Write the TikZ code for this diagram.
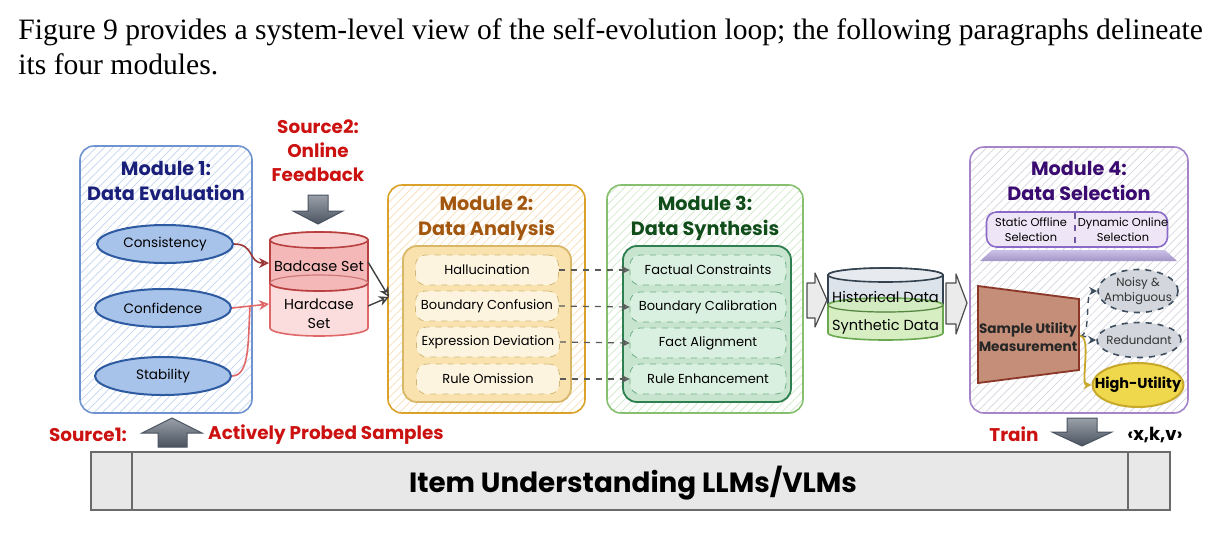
\documentclass[tikz,border=0pt]{standalone}
\usepackage{fontspec}
\setmainfont{Liberation Serif}
\newfontfamily\cf{Poppins}
\usetikzlibrary{patterns.meta,arrows.meta,shapes.geometric}
\definecolor{mOneB}{HTML}{6E93CF}\definecolor{mOneH}{HTML}{C2D3EE}\definecolor{mOneT}{HTML}{1A1F7A}
\definecolor{ellF}{HTML}{A8C3EA}\definecolor{ellB}{HTML}{2D5AA0}
\definecolor{mTwoB}{HTML}{DBA22A}\definecolor{mTwoH}{HTML}{F6DDB6}\definecolor{mTwoT}{HTML}{A2560E}
\definecolor{inTwoF}{HTML}{F9E2AE}\definecolor{inTwoB}{HTML}{D8B868}\definecolor{itTwoF}{HTML}{FDF4E0}\definecolor{itTwoB}{HTML}{D2B878}
\definecolor{mThrB}{HTML}{86C06E}\definecolor{mThrH}{HTML}{CFE7C8}\definecolor{mThrT}{HTML}{114D1A}
\definecolor{inThrF}{HTML}{C6E4CE}\definecolor{inThrB}{HTML}{2E7F4F}\definecolor{itThrF}{HTML}{D9EFDF}\definecolor{itThrB}{HTML}{6FAF86}
\definecolor{srcRed}{HTML}{CC1111}
\definecolor{badF}{HTML}{F4B8B8}\definecolor{badB}{HTML}{B84040}\definecolor{hardF}{HTML}{FBDDDD}\definecolor{hardB}{HTML}{E06868}
\definecolor{histF}{HTML}{DDE3EA}\definecolor{histB}{HTML}{34424F}\definecolor{synF}{HTML}{D3ECBD}\definecolor{synB}{HTML}{6AA84F}
\definecolor{mFouB}{HTML}{A684C8}\definecolor{mFouH}{HTML}{D4D4DC}\definecolor{mFouT}{HTML}{3A0A70}
\definecolor{selF}{HTML}{EEE6F6}\definecolor{selB}{HTML}{8A6AC8}\definecolor{platF}{HTML}{B6A6DC}
\definecolor{sumF}{HTML}{C48E78}\definecolor{sumB}{HTML}{8B3626}
\definecolor{gelF}{HTML}{D3D6DC}\definecolor{gelB}{HTML}{3E4E5E}
\definecolor{yelF}{HTML}{F0D84C}\definecolor{yelB}{HTML}{C7A82A}
\definecolor{barF}{HTML}{E8E8E8}\definecolor{barB}{HTML}{6A6A6A}
\definecolor{arrD}{HTML}{4A5360}\definecolor{arrL}{HTML}{9AA0A8}
\begin{document}
\begin{tikzpicture}[x=0.5pt,y=-0.5pt,
  modbox/.style={draw, rounded corners=7pt, line width=0.8pt, inner sep=0pt},
  hatch/.style={pattern={Lines[angle=45,distance=3pt,line width=0.35pt]}, pattern color=#1},
  mtitle/.style={font=\cf\bfseries\fontsize{9.6}{12.5}\selectfont, align=center, inner sep=0pt},
  txt/.style={font=\cf\fontsize{6.9}{9}\selectfont, align=center, inner sep=0pt},
  evalell/.style={ellipse, draw=ellB, fill=ellF, line width=1pt, minimum width=68pt, minimum height=19pt, inner sep=0pt, font=\cf\fontsize{6.8}{9}\selectfont},
  itemtwo/.style={draw=itTwoB, fill=itTwoF, dashed, rounded corners=5pt, minimum width=71.5pt, minimum height=15pt, inner sep=0pt, font=\cf\fontsize{6.5}{9}\selectfont},
  itemthr/.style={draw=itThrB, fill=itThrF, dashed, rounded corners=5pt, minimum width=78pt, minimum height=15pt, inner sep=0pt, font=\cf\fontsize{6.5}{9}\selectfont},
  dasharr/.style={draw=black!65, dashed, line width=0.6pt, -{Stealth[open,length=4pt,width=4pt]}},
  srctxt/.style={font=\cf\bfseries\fontsize{9.2}{12}\selectfont, text=srcRed, align=center, inner sep=0pt},
  blockarr/.style={top color=arrL, bottom color=arrD, draw=arrD, line width=0.5pt},
  chevarr/.style={fill=black!8, draw=black!70, line width=0.6pt, line join=round}
]
\useasboundingbox (0,0) rectangle (1219,532);
% header
\node[anchor=base west, inner sep=0pt, font=\fontsize{14.8}{17}\selectfont] (h1) at (18,39) {Figure 9 provides a system-level view of the self-evolution loop; the following paragraphs delineate};
\node[anchor=base west, inner sep=0pt, font=\fontsize{14.8}{17}\selectfont] (h2) at (18,74) {its four modules.};

% ---------- Module 1
\node[modbox, draw=mOneB, hatch=mOneH, minimum width=86pt, minimum height=133.5pt] (m1) at (166,279.5) {};
\node[mtitle, text=mOneT] (t1) at (166,181) {Module 1:\\Data Evaluation};
\node[evalell] (cons) at (165,244) {Consistency};
\node[evalell] (conf) at (163,308) {Confidence};
\node[evalell] (stab) at (163,376) {Stability};

% ---------- Source 2
\node[srctxt] (s2) at (318,151) {Source2:\\Online\\Feedback};
\path[blockarr] (308,195) -- (328,195) -- (328,211) -- (343,211) -- (318,224) -- (293,211) -- (308,211) -- cycle;

% ---------- Cylinder 1
\path[fill=hardF, draw=hardB, line width=0.8pt] (270,283) -- (270,328) arc[start angle=180,end angle=360,x radius=24.5pt,y radius=4pt] -- (368,283) arc[start angle=360,end angle=180,x radius=24.5pt,y radius=4pt] -- cycle;
\path[fill=badF, draw=badB, line width=0.8pt] (270,240) -- (270,283) arc[start angle=180,end angle=360,x radius=24.5pt,y radius=4pt] -- (368,240) arc[start angle=0,end angle=180,x radius=24.5pt,y radius=4pt] -- cycle;
\path[fill=hardF!60!badF, draw=badB, line width=0.8pt] (319,240) ellipse[x radius=24.5pt,y radius=4pt];
\draw[badB!70, line width=0.6pt] (368,283) arc[start angle=0,end angle=180,x radius=24.5pt,y radius=4pt];
\node[txt, font=\cf\fontsize{7.2}{9.5}\selectfont] (bad) at (319,266) {Badcase Set};
\node[txt, font=\cf\fontsize{7.2}{9.5}\selectfont] (hard) at (319,314) {Hardcase\\Set};
\coordinate (badin) at (269,263);
\coordinate (hardin) at (269,304);
\draw[draw=badB!85!black, line width=0.8pt, -{Stealth[open,length=5pt,width=5pt]}] (cons.east) .. controls (255,244) and (248,263) .. (badin);
\draw[draw=hardB, line width=0.8pt, -{Stealth[open,length=5pt,width=5pt]}] (conf.east) -- (hardin);
\draw[draw=hardB, line width=0.8pt] (stab.east) .. controls (250,376) and (248,340) .. (250,306);

% ---------- Module 2
\node[modbox, draw=mTwoB, hatch=mTwoH, minimum width=98.5pt, minimum height=114pt] (m2) at (486.5,299) {};
\node[mtitle, text=mTwoT] (t2) at (486.5,218) {Module 2:\\Data Analysis};
\node[draw=inTwoB, fill=inTwoF, rounded corners=7pt, line width=0.9pt, minimum width=84pt, minimum height=78pt, inner sep=0pt] (in2) at (487,324) {};
\node[itemtwo] (hal) at (487,270) {Hallucination};
\node[itemtwo] (bcf) at (487,306) {Boundary Confusion};
\node[itemtwo] (exd) at (488,342) {Expression Deviation};
\node[itemtwo] (rom) at (488,379) {Rule Omission};
\coordinate (m2in) at (389,297);
\draw[draw=black!75, line width=0.7pt, -{Stealth[open,length=5pt,width=5pt]}] (368,262) -- (m2in);
\draw[draw=black!75, line width=0.7pt, -{Stealth[open,length=5pt,width=5pt]}] (368,306) -- (m2in);

% ---------- Module 3
\node[modbox, draw=mThrB, hatch=mThrH, minimum width=98pt, minimum height=114pt] (m3) at (705,299) {};
\node[mtitle, text=mThrT] (t3) at (705,218) {Module 3:\\Data Synthesis};
\node[draw=inThrB, fill=inThrF, rounded corners=7pt, line width=0.9pt, minimum width=84pt, minimum height=78pt, inner sep=0pt] (in3) at (707,324) {};
\node[itemthr] (fac) at (708,270) {Factual Constraints};
\node[itemthr] (bca) at (708,307) {Boundary Calibration};
\node[itemthr] (fal) at (708,343) {Fact Alignment};
\node[itemthr] (ren) at (708,379) {Rule Enhancement};
\draw[dasharr] (hal.east) -- (fac.west);
\draw[dasharr] (bcf.east) -- (bca.west);
\draw[dasharr] (exd.east) -- (fal.west);
\draw[dasharr] (rom.east) -- (ren.west);

% ---------- chevron arrows
\path[chevarr] (807,283) -- (815,283) -- (815,273) -- (827,300) -- (815,327) -- (815,318) -- (807,318) -- cycle;
\path[chevarr] (946,283) -- (956,283) -- (956,274) -- (967,303) -- (956,334) -- (956,324) -- (946,324) -- cycle;

% ---------- Cylinder 2
\path[fill=histF, draw=histB, line width=0.8pt] (828,275) -- (828,305) arc[start angle=180,end angle=360,x radius=28.75pt,y radius=3.5pt] -- (943,275) arc[start angle=0,end angle=180,x radius=28.75pt,y radius=3.5pt] -- cycle;
\path[fill=histF!70!white, draw=histB, line width=0.8pt] (885.5,275) ellipse[x radius=28.75pt,y radius=3.5pt];
\path[fill=synF, fill opacity=0.9, draw=synB, line width=0.8pt] (828,305) -- (828,333) arc[start angle=180,end angle=360,x radius=28.75pt,y radius=3.5pt] -- (943,305) arc[start angle=0,end angle=180,x radius=28.75pt,y radius=3.5pt] -- cycle;
\draw[synB!80!black, line width=0.6pt] (828,305) arc[start angle=180,end angle=360,x radius=28.75pt,y radius=3.5pt];
\node[txt, font=\cf\fontsize{7.3}{9}\selectfont] (hist) at (885.5,297) {Historical Data};
\node[txt, font=\cf\fontsize{7.3}{9}\selectfont] (syn) at (885.5,327) {Synthetic Data};

% ---------- Module 4
\node[modbox, draw=mFouB, hatch=mFouH, minimum width=109pt, minimum height=133pt] (m4) at (1079,280) {};
\node[mtitle, text=mFouT] (t4) at (1079,181) {Module 4:\\Data Selection};
\node[draw=selB, fill=selF, rounded corners=5pt, line width=0.8pt, minimum width=90.5pt, minimum height=17.5pt, inner sep=0pt] (sel) at (1077,229.5) {};
\node[txt, font=\cf\fontsize{5.7}{7.5}\selectfont] (sta) at (1031,230) {Static Offline\\Selection};
\node[txt, font=\cf\fontsize{5.7}{7.5}\selectfont] (dyn) at (1123,230) {Dynamic Online\\Selection};
\draw[selB!80!black, dashed, line width=0.6pt] (sel.north) ++(-2,2) coordinate (dvt) -- ++(0,31) coordinate (dvb);
\shade[top color=platF!70!white, bottom color=platF!90!black] (992,250) -- (1165,250) -- (1177,261) -- (980,261) -- cycle;
\path[fill=sumF, draw=sumB, line width=0.9pt] (978,286) -- (1079,299) -- (1079,370) -- (978,383) -- cycle;
\node[txt, font=\cf\bfseries\fontsize{6.8}{9}\selectfont, text=black!85] (sum) at (1028,337) {Sample Utility\\Measurement};
\coordinate (sumR) at (1080,336);
\node[ellipse, draw=gelB, fill=gelF, dashed, line width=0.8pt, minimum width=40pt, minimum height=21.5pt, inner xsep=-3pt, inner ysep=-2pt, align=center, font=\cf\fontsize{5.9}{7.5}\selectfont, text=black!80] (noi) at (1138,291) {Noisy \&\\Ambiguous};
\node[ellipse, draw=gelB, fill=gelF, dashed, line width=0.8pt, minimum width=42pt, minimum height=17.5pt, inner xsep=-3pt, inner ysep=0pt, font=\cf\fontsize{5.9}{7.5}\selectfont, text=black!80] (rdn) at (1139,340) {Redundant};
\node[ellipse, draw=yelB, fill=yelF, line width=1pt, minimum width=45.5pt, minimum height=22pt, inner xsep=-8pt, inner ysep=0pt, font=\cf\bfseries\fontsize{7.2}{9}\selectfont] (hiu) at (1138,385) {High-Utility};
\draw[draw=gelB, dashed, line width=0.7pt, -{Stealth[open,length=4pt,width=4pt]}] (sumR) .. controls (1092,336) and (1084,291) .. (noi.west);
\draw[draw=gelB, dashed, line width=0.7pt, -{Stealth[open,length=4pt,width=4pt]}] (sumR) .. controls (1090,336) and (1088,340) .. (rdn.west);
\draw[draw=yelB, line width=0.9pt, -{Stealth[open,length=4pt,width=4pt]}] (sumR) .. controls (1092,336) and (1080,385) .. (hiu.west);

% ---------- bottom
\node[srctxt] (s1) at (88,435) {Source1:};
\path[blockarr] (158,447) -- (187,447) -- (187,433) -- (202,433) -- (172,418) -- (142,433) -- (158,433) -- cycle;
\node[srctxt] (aps) at (326,435) {Actively Probed Samples};
\node[srctxt] (trn) at (1014,434) {Train};
\path[blockarr] (1067,418) -- (1097,418) -- (1097,432) -- (1112,432) -- (1082,446) -- (1052,432) -- (1067,432) -- cycle;
\node[font=\cf\bfseries\fontsize{9}{10}\selectfont, inner sep=0pt] (kv) at (1155,435) {‹x,k,v›};
\node[draw=barB, fill=barF, line width=1.2pt, minimum width=539.5pt, minimum height=29pt, inner sep=0pt] (llm) at (630.5,481) {};
\draw[barB, line width=0.8pt] (132,452) -- (132,510);
\draw[barB, line width=0.8pt] (1128,452) -- (1128,510);
\node[font=\cf\bfseries\fontsize{13.9}{16}\selectfont, inner sep=0pt] (llmt) at (633,483) {Item Understanding LLMs/VLMs};
\end{tikzpicture}
\end{document}
